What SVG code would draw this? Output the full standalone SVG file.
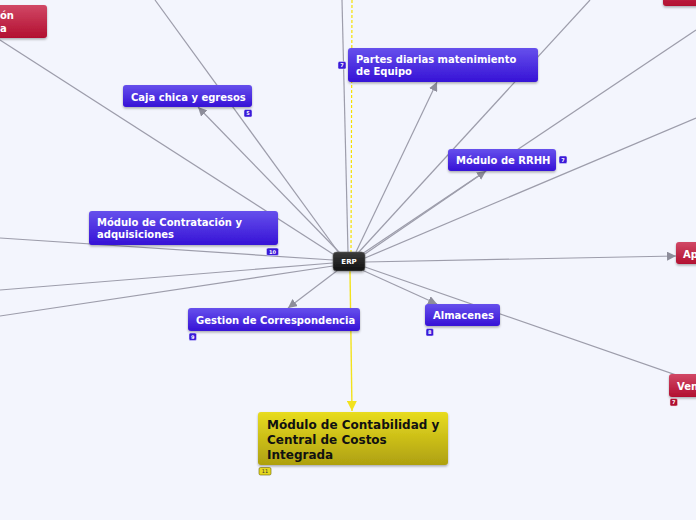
<svg xmlns="http://www.w3.org/2000/svg" width="696" height="520" viewBox="0 0 696 520">
<defs>
<linearGradient id="gb" x1="0" y1="0" x2="0" y2="1"><stop offset="0" stop-color="#6650ec"/><stop offset="1" stop-color="#3612d6"/></linearGradient>
<linearGradient id="gr" x1="0" y1="0" x2="0" y2="1"><stop offset="0" stop-color="#d14866"/><stop offset="1" stop-color="#b20f30"/></linearGradient>
<linearGradient id="gy" x1="0" y1="0" x2="0" y2="1"><stop offset="0" stop-color="#e8dc20"/><stop offset="1" stop-color="#aea010"/></linearGradient>
<linearGradient id="gk" x1="0" y1="0" x2="0" y2="1"><stop offset="0" stop-color="#3a3a3a"/><stop offset="1" stop-color="#111"/></linearGradient>
<marker id="ag" viewBox="0 0 10 10" refX="10" refY="5" markerWidth="9" markerHeight="9" markerUnits="userSpaceOnUse" orient="auto"><path d="M0,0 L10,5 L0,10 z" fill="#8d8d9a"/></marker>
<marker id="ay" viewBox="0 0 10 10" refX="10" refY="5" markerWidth="10" markerHeight="10" markerUnits="userSpaceOnUse" orient="auto"><path d="M0,0 L10,5 L0,10 z" fill="#f2e21e"/></marker>
<filter id="sh" x="-10%" y="-20%" width="120%" height="150%"><feDropShadow dx="0" dy="1.5" stdDeviation="1" flood-color="#000" flood-opacity="0.3"/></filter>
</defs>
<style>
.c{stroke:#9d9dab;stroke-width:1.2;fill:none}
.ca{stroke:#9d9dab;stroke-width:1.2;fill:none;marker-end:url(#ag)}
.b{fill:url(#gb);filter:url(#sh)}
.r{fill:url(#gr);filter:url(#sh)}
.t{font-family:"DejaVu Sans",Verdana,sans-serif;font-weight:bold;font-size:10px;fill:#fff}
.ty{font-family:"DejaVu Sans",Verdana,sans-serif;font-weight:bold;font-size:12px;fill:#111}
.bd{fill:#3a1ad8;stroke:#e0e0ff;stroke-width:0.5}
.bt{font-family:"DejaVu Sans",Verdana,sans-serif;font-weight:bold;font-size:5px;fill:#fff;text-anchor:middle}
</style>
<rect width="696" height="520" fill="#f3f5fd"/>
<g id="connectors">
<line class="c" x1="0" y1="40" x2="336" y2="256"/>
<line class="c" x1="155" y1="0" x2="339" y2="253"/>
<line class="c" x1="342" y1="0" x2="348" y2="252"/>
<line x1="352" y1="0" x2="351" y2="252" stroke="#f5e200" stroke-width="1.2" stroke-dasharray="3,2"/>
<line class="ca" x1="340" y1="253" x2="198" y2="107"/>
<line class="ca" x1="356" y1="252" x2="437" y2="82"/>
<line class="c" x1="358" y1="253" x2="590" y2="0"/>
<line class="c" x1="362" y1="254" x2="696" y2="30"/>
<line class="ca" x1="362" y1="256" x2="486" y2="171"/>
<line class="c" x1="365" y1="258" x2="696" y2="118"/>
<line class="ca" x1="365" y1="262" x2="676" y2="256"/>
<line class="c" x1="365" y1="267" x2="696" y2="382"/>
<line class="ca" x1="362" y1="270" x2="437" y2="304"/>
<line class="ca" x1="338" y1="270" x2="288" y2="308"/>
<line x1="350" y1="271" x2="352" y2="411" stroke="#f2e21e" stroke-width="1.4" marker-end="url(#ay)"/>
<line class="c" x1="0" y1="238" x2="333" y2="260"/>
<line class="c" x1="0" y1="290" x2="333" y2="263"/>
<line class="c" x1="0" y1="316" x2="333" y2="266"/>
</g>
<g id="n-topleft"><rect class="r" x="-12" y="5" width="59" height="33" rx="3"/><text class="t" x="0" y="19">ón</text><text class="t" x="0" y="32">a</text></g>
<g id="n-topright"><rect class="r" x="663" y="-20" width="50" height="26" rx="3"/></g>
<g id="n-caja"><rect class="b" x="123" y="85" width="129" height="22" rx="3"/><text class="t" x="131" y="100.5">Caja chica y egresos</text><rect class="bd" x="244" y="109.5" width="8" height="7.5" rx="1.5"/><text class="bt" x="248" y="115">5</text></g>
<g id="n-partes"><rect class="b" x="348" y="48" width="190" height="34" rx="3"/><text class="t" x="356" y="63">Partes diarias matenimiento</text><text class="t" x="356" y="75">de Equipo</text><rect class="bd" x="338" y="61.5" width="8" height="7.5" rx="1.5"/><text class="bt" x="342" y="67">7</text></g>
<g id="n-rrhh"><rect class="b" x="448" y="149" width="108" height="22" rx="3"/><text class="t" x="456" y="164">Módulo de RRHH</text><rect class="bd" x="559" y="156" width="8" height="7.5" rx="1.5"/><text class="bt" x="563" y="161.5">7</text></g>
<g id="n-contratacion"><rect class="b" x="89" y="211" width="189" height="34" rx="3"/><text class="t" x="97" y="226">Módulo de Contratación y</text><text class="t" x="97" y="238">adquisiciones</text><rect class="bd" x="266.5" y="248" width="12" height="7.5" rx="1.5"/><text class="bt" x="272.5" y="253.5">10</text></g>
<g id="n-erp"><rect x="333" y="252" width="32" height="19" rx="3.5" fill="url(#gk)" stroke="#666" stroke-width="0.6" filter="url(#sh)"/><text x="349" y="264" font-family="DejaVu Sans,Verdana,sans-serif" font-weight="bold" font-size="7" fill="#fff" text-anchor="middle">ERP</text></g>
<g id="n-gestion"><rect class="b" x="188" y="308" width="172" height="23" rx="3"/><text class="t" x="196" y="323.5">Gestion de Correspondencia</text><rect class="bd" x="189" y="333" width="7.5" height="7.5" rx="1.5"/><text class="bt" x="192.8" y="338.5">9</text></g>
<g id="n-almacenes"><rect class="b" x="425" y="304" width="75" height="22" rx="3"/><text class="t" x="433" y="319">Almacenes</text><rect class="bd" x="426" y="328.5" width="7.5" height="7.5" rx="1.5"/><text class="bt" x="429.8" y="334">8</text></g>
<g id="n-contabilidad"><rect x="258" y="412" width="190" height="53" rx="3" fill="url(#gy)" filter="url(#sh)"/><text class="ty" x="267" y="429">Módulo de Contabilidad y</text><text class="ty" x="267" y="444">Central de Costos</text><text class="ty" x="267" y="459">Integrada</text><rect x="259" y="467.5" width="12" height="7.5" rx="1.5" fill="#e6d820" stroke="#6a6200" stroke-width="0.6"/><text x="265" y="473" font-family="DejaVu Sans,Verdana,sans-serif" font-size="5" fill="#333" text-anchor="middle">11</text></g>
<g id="n-ap"><rect class="r" x="676" y="242" width="40" height="22" rx="3"/><text class="t" x="683" y="257.5">Ap</text></g>
<g id="n-ven"><rect class="r" x="669" y="374" width="40" height="23" rx="3"/><text class="t" x="677" y="389.5">Ven</text><rect x="670" y="398.5" width="7.5" height="7.5" rx="1.5" fill="#b01030" stroke="#f0d0d8" stroke-width="0.5"/><text class="bt" x="673.8" y="404">7</text></g>
</svg>
